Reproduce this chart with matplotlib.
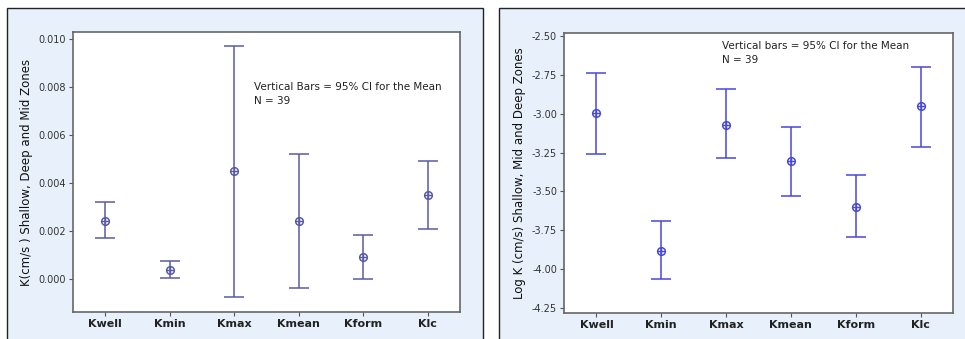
import matplotlib
matplotlib.use("Agg")
import matplotlib.pyplot as plt
from matplotlib.patches import Rectangle
import numpy as np

# Data
cats = ["Kwell", "Kmin", "Kmax", "Kmean", "Kform", "Klc"]

k_mean = [0.00243, 0.00039, 0.0045, 0.00243, 0.00092, 0.00353]
k_upper = [0.00321, 0.00076, 0.00971, 0.00522, 0.00185, 0.00493]
k_lower = [0.00172, 0.00004, -0.00072, -0.00037, 0.0, 0.0021]

logk_mean = [-2.998, -3.88, -3.071, -3.306, -3.60, -2.953]
logk_upper = [-2.737, -3.69, -2.844, -3.084, -3.392, -2.701]
logk_lower = [-3.257, -4.063, -3.287, -3.527, -3.794, -3.212]

left_yticks = [0.000, 0.002, 0.004, 0.006, 0.008, 0.010]
right_yticks = [-4.25, -4.00, -3.75, -3.50, -3.25, -3.00, -2.75, -2.50]

W, H = 965, 339
fig = plt.figure(figsize=(W / 100, H / 100), dpi=100)
fig.patch.set_facecolor("white")

bg = "#e8f0fb"
# panel backgrounds (pixel coords -> figure coords)
for x0, x1 in [(7, 483), (499, 980)]:
    fig.patches.append(Rectangle((x0 / W, -0.1), (x1 - x0) / W, (H - 8) / H + 0.1,
                                 transform=fig.transFigure, facecolor=bg,
                                 edgecolor="#222222", linewidth=1.0, zorder=-5))


def make_ax(x0, x1, y0, y1):
    ax = fig.add_axes([x0 / W, (H - y1) / H, (x1 - x0) / W, (y1 - y0) / H])
    ax.set_zorder(2)
    return ax


def draw(ax, mean, lo, hi, color, yticks, fmt, ylim, ylabel, note, note_xy):
    x = np.arange(1, len(cats) + 1)
    mean = np.array(mean)
    err = [mean - np.array(lo), np.array(hi) - mean]
    ax.errorbar(x, mean, yerr=err, fmt="none", ecolor=color, elinewidth=1.1,
                capsize=7.5, capthick=1.1)
    ax.plot(x, mean, "o", ms=5.5, mfc="none", mec=color, mew=1.1)
    ax.plot(x, mean, "+", ms=5.5, mec=color, mew=1.0)
    ax.set_xlim(0.5, 6.5)
    ax.set_ylim(*ylim)
    ax.set_xticks(x)
    ax.set_xticklabels(cats, fontsize=8, fontweight="bold", color="#222222")
    ax.set_yticks(yticks)
    ax.set_yticklabels([fmt.format(v) for v in yticks], fontsize=7, color="#333333")
    ax.set_ylabel(ylabel, fontsize=8.5, color="#111111", labelpad=4)
    ax.tick_params(length=3, width=0.8, color="#555555", pad=2)
    for s in ax.spines.values():
        s.set_color("#666666")
        s.set_linewidth(1.2)
    ax.set_facecolor("white")
    ax.text(note_xy[0], note_xy[1], note, transform=ax.transAxes, fontsize=7.5,
            color="#222222", va="top", ha="left", linespacing=1.5)


ax1 = make_ax(73, 460, 32, 312)
draw(ax1, k_mean, k_lower, k_upper, "#5a5aa6", left_yticks, "{:.3f}",
     (-0.00136, 0.0103), "K(cm/s ) Shallow, Deep and Mid Zones",
     "Vertical Bars = 95% CI for the Mean\nN = 39", (0.468, 0.82))

ax2 = make_ax(564, 953, 33, 313)
draw(ax2, logk_mean, logk_lower, logk_upper, "#4848dc", right_yticks, "{:.2f}",
     (-4.28, -2.483), "Log K (cm/s) Shallow, Mid and Deep Zones",
     "Vertical bars = 95% CI for the Mean\nN = 39", (0.405, 0.97))

fig.savefig("out.png", dpi=100, facecolor=fig.get_facecolor())
